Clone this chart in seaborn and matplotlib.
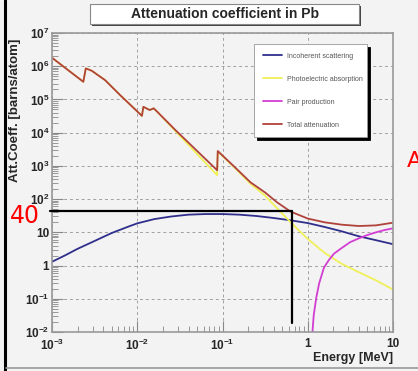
import numpy as np
import pandas as pd
import matplotlib.pyplot as plt
import matplotlib.ticker as mticker
from matplotlib.patches import Rectangle
from matplotlib.lines import Line2D
import seaborn as sns

# Data (energy in MeV, coefficient in barns/atom)
total_energy = [1.0e-3, 2.33e-3, 2.49e-3, 2.93e-3, 4.2e-3, 6.3e-3, 1.135e-2, 1.18e-2,
                1.40e-2, 1.56e-2, 1.71e-2, 2.8e-2, 8.65e-2, 8.8e-2, 0.141, 0.213,
                0.316, 0.44, 0.63, 1.0, 1.58, 2.51, 3.98, 6.31, 10.0]
total_value = [1.8e6, 3.4e5, 8.6e5, 7.3e5, 3.8e5, 1.35e5, 3.2e4, 6.0e4,
               4.8e4, 5.4e4, 4.3e4, 1.2e4, 740, 2.8e3, 890, 320,
               158, 79, 42, 26, 20, 17, 15.5, 16.2, 19.5]

photo_energy = [1.0e-3, 2.33e-3, 2.49e-3, 2.93e-3, 4.2e-3, 6.3e-3, 1.135e-2, 1.18e-2,
                1.40e-2, 1.56e-2, 1.71e-2, 2.8e-2, 8.65e-2, 8.8e-2, 0.141, 0.213,
                0.316, 0.44, 0.63, 1.0, 1.58, 2.51, 3.98, 6.31, 10.0]
photo_value = [1.8e6, 3.4e5, 8.6e5, 7.3e5, 3.8e5, 1.35e5, 3.2e4, 6.0e4,
               4.8e4, 5.4e4, 4.3e4, 1.12e4, 525, 2.7e3, 850, 290,
               126, 52, 20, 6.3, 2.4, 1.12, 0.63, 0.36, 0.19]

incoh_energy = [1.0e-3, 1.41e-3, 2.0e-3, 3.16e-3, 5.0e-3, 7.94e-3, 1.0e-2, 1.58e-2,
                2.51e-2, 3.98e-2, 6.31e-2, 0.1, 0.158, 0.251, 0.398, 0.631,
                1.0, 1.58, 2.51, 3.98, 6.31, 10.0]
incoh_value = [1.3, 2.0, 3.2, 5.5, 9.5, 15, 18.6, 25,
               30, 34, 35.5, 35.5, 34, 31, 27, 23,
               19, 14.5, 10.7, 7.6, 5.8, 4.4]

pair_energy = [1.135, 1.175, 1.26, 1.36, 1.55, 1.78, 2.04, 2.51, 3.16, 3.98, 5.01,
               6.31, 7.94, 10.0]
pair_value = [0.01, 0.032, 0.11, 0.29, 0.87, 1.5, 2.3, 3.4, 5.1, 6.6, 8.3,
              10.0, 11.7, 13.2]

series_names = ["Incoherent scattering", "Photoelectric absorption",
                "Pair production", "Total attenuation"]
series_colors = ["#2e2e8c", "#f0f058", "#d23ed2", "#b0423c"]

x_ticks = [1e-3, 1e-2, 1e-1, 1, 10]
x_tick_labels = [r"$\mathbf{10^{-3}}$", r"$\mathbf{10^{-2}}$", r"$\mathbf{10^{-1}}$", "1", "10"]
y_ticks = [1e-2, 1e-1, 1, 10, 1e2, 1e3, 1e4, 1e5, 1e6, 1e7]
y_tick_labels = [r"$\mathbf{10^{-2}}$", r"$\mathbf{10^{-1}}$", "1", "10",
                 r"$\mathbf{10^{2}}$", r"$\mathbf{10^{3}}$", r"$\mathbf{10^{4}}$",
                 r"$\mathbf{10^{5}}$", r"$\mathbf{10^{6}}$", r"$\mathbf{10^{7}}$"]

# annotation drawn over the screenshot
marker_energy = 0.662
marker_value = 45
marker_bottom = 0.019

sns.set_style("ticks")
plt.rcParams["font.family"] = ["Liberation Sans", "DejaVu Sans"]
plt.rcParams["mathtext.fontset"] = "custom"
plt.rcParams["mathtext.rm"] = "Liberation Sans"
plt.rcParams["mathtext.bf"] = "Liberation Sans:bold"

bg = "#f3f3f3"
fig = plt.figure(figsize=(4.18, 3.71), dpi=100, facecolor=bg)
ax = fig.add_axes([52 / 418, 1 - 332 / 371, 341 / 418, 299 / 371], facecolor=bg)

frames = [
    pd.DataFrame({"energy": incoh_energy, "value": incoh_value}),
    pd.DataFrame({"energy": photo_energy, "value": photo_value}),
    pd.DataFrame({"energy": pair_energy, "value": pair_value}),
    pd.DataFrame({"energy": total_energy, "value": total_value}),
]
for df, name, col in zip(frames, series_names, series_colors):
    sns.lineplot(data=df, x="energy", y="value", ax=ax, color=col, lw=1.3,
                 estimator=None, sort=False, label=name)

ax.set_xscale("log")
ax.set_yscale("log")
ax.set_xlim(1e-3, 10)
ax.set_ylim(1e-2, 1e7)
ax.set_xlabel("")
ax.set_ylabel("")

ax.xaxis.set_major_locator(mticker.FixedLocator(x_ticks))
ax.xaxis.set_major_formatter(mticker.FixedFormatter(x_tick_labels))
ax.yaxis.set_major_locator(mticker.FixedLocator(y_ticks))
ax.yaxis.set_major_formatter(mticker.FixedFormatter(y_tick_labels))
ax.xaxis.set_minor_locator(mticker.LogLocator(base=10, subs=np.arange(2, 10), numticks=20))
ax.yaxis.set_minor_locator(mticker.LogLocator(base=10, subs=np.arange(2, 10), numticks=20))
ax.xaxis.set_minor_formatter(mticker.NullFormatter())
ax.yaxis.set_minor_formatter(mticker.NullFormatter())

ax.tick_params(which="both", direction="in", color="#888888", labelsize=8.5)
ax.tick_params(which="major", length=8, width=0.8)
ax.tick_params(which="minor", length=4, width=0.6)
ax.tick_params(axis="x", pad=4)
ax.tick_params(axis="y", pad=2)
for lab in ax.get_xticklabels() + ax.get_yticklabels():
    lab.set_fontweight("bold")

ax.grid(which="major", color="#a0a0a0", linestyle=(0, (3, 3)), linewidth=0.7)
for s in ax.spines.values():
    s.set_color("#999999")
    s.set_linewidth(1.2)

leg = ax.legend(loc="upper left", bbox_to_anchor=(0.592, 0.963, 0.332, 0.0),
                mode="expand", fontsize=5, frameon=True, fancybox=False,
                shadow={"color": "black", "alpha": 1.0}, edgecolor="#999999",
                facecolor="white", framealpha=1.0, labelspacing=2.3,
                borderpad=1.25, handlelength=2.8, handletextpad=0.7,
                borderaxespad=0)
leg.get_frame().set_linewidth(0.6)
for txt in leg.get_texts():
    txt.set_color("#555555")

# black guide lines of the annotation
ax.plot([1e-3 * 10 ** (-2 / 85), marker_energy], [marker_value, marker_value],
        color="black", lw=1.6, clip_on=False, zorder=5)
ax.plot([marker_energy, marker_energy], [marker_value, marker_bottom],
        color="black", lw=1.6, zorder=5)

# title box with shadow
fig.patches.append(Rectangle((92 / 418, 1 - 26 / 371), 269 / 418, 20 / 371,
                             transform=fig.transFigure, facecolor="#444444",
                             edgecolor="none", zorder=1))
fig.patches.append(Rectangle((90 / 418, 1 - 24 / 371), 269 / 418, 20 / 371,
                             transform=fig.transFigure, facecolor="white",
                             edgecolor="#888888", lw=0.8, zorder=2))
fig.text(224.5 / 418, 1 - 14 / 371, "Attenuation coefficient in Pb",
         ha="center", va="center", fontsize=10, fontweight="bold", zorder=3)

fig.text(15 / 418, 1 - 110 / 371, "Att.Coeff. [barns/atom]", rotation=90,
         ha="center", va="center", fontsize=9.5, fontweight="bold")
fig.text(393 / 418, 1 - 358 / 371, "Energy [MeV]", ha="right", va="center",
         fontsize=9, fontweight="bold")

fig.text(25 / 418, 1 - 216 / 371, "40", color="red", ha="center", va="center",
         fontsize=17, family="DejaVu Sans")
fig.text(407 / 418, 1 - 161 / 371, "A", color="red", ha="left", va="center",
         fontsize=16, family="DejaVu Sans")

# screenshot frame edges
fig.lines.append(Line2D([4.5 / 418, 4.5 / 418], [0, 1], transform=fig.transFigure,
                        color="black", lw=2.2))
fig.lines.append(Line2D([6 / 418, 1], [1 - 368 / 371, 1 - 368 / 371],
                        transform=fig.transFigure, color="#999999", lw=1.2))

fig.savefig("out.png", dpi=100, facecolor=bg)
